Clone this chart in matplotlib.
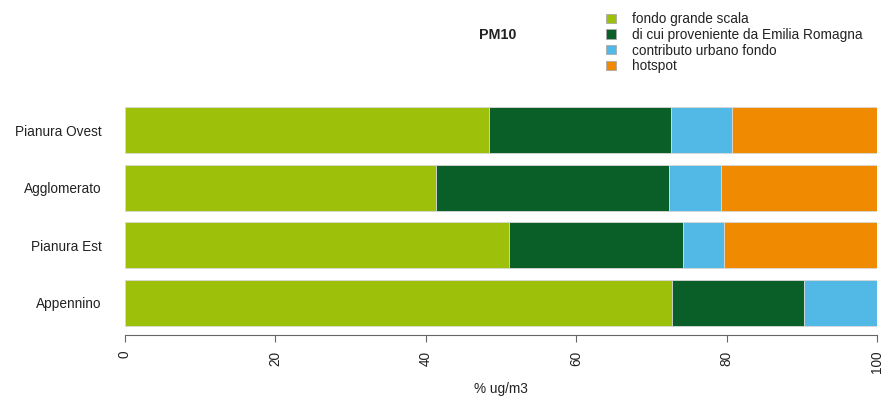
import matplotlib
matplotlib.use("Agg")
import matplotlib.pyplot as plt
from matplotlib.patches import Patch

plt.rcParams['font.family'] = ['Liberation Sans', 'DejaVu Sans']

regions = ["Appennino", "Pianura Est", "Agglomerato", "Pianura Ovest"]
fondo_grande_scala = [72.7, 51.1, 41.4, 48.4]
emilia_romagna = [17.6, 23.1, 31.0, 24.2]
urbano_fondo = [9.7, 5.4, 6.9, 8.1]
hotspot = [0.0, 20.4, 20.7, 19.3]

series = [fondo_grande_scala, emilia_romagna, urbano_fondo, hotspot]
labels = ["fondo grande scala", "di cui proveniente da Emilia Romagna",
          "contributo urbano fondo", "hotspot"]
colors = ["#9DC00A", "#0A5F29", "#52B9E6", "#F08A00"]
xticks = [0, 20, 40, 60, 80, 100]

FS = 9.8
fig = plt.figure(figsize=(8.87, 4.03), dpi=100)
ax = fig.add_axes([125/887, 1 - 335/403, 752/887, 235/403])

y = list(range(len(regions)))
left = [0.0] * len(regions)
for vals, col in zip(series, colors):
    ax.barh(y, vals, left=left, height=0.8, color=col, edgecolor="#d8d8d8", linewidth=0.6)
    left = [l + v for l, v in zip(left, vals)]

ax.set_xlim(0, 100)
ax.set_ylim(-0.557, 3.522)
ax.set_yticks(y)
ax.set_yticklabels(regions, fontsize=FS, color="#222222")
ax.tick_params(axis='y', length=0, pad=17)

for s in ["top", "right", "left"]:
    ax.spines[s].set_visible(False)
ax.spines["bottom"].set_bounds(0, 100)
ax.spines["bottom"].set_color("#666666")
ax.spines["bottom"].set_linewidth(0.8)
ax.set_xticks(xticks)
ax.set_xticklabels([str(t) for t in xticks], rotation=90, fontsize=FS, color="#222222")
ax.tick_params(axis='x', length=5, width=0.8, color="#666666", pad=6.5)
ax.set_xlabel("% ug/m3", fontsize=FS, color="#222222", labelpad=6)

fig.text(498/887, 1 - 35/403, "PM10", fontsize=FS + 0.5, fontweight="bold",
         ha="center", va="center", color="#222222")

handles = [Patch(facecolor=c, edgecolor="#aaaaaa", linewidth=0.6) for c in colors]
fig.legend(handles, labels, loc="upper left", bbox_to_anchor=(606/887, 1 - 12/403),
           frameon=False, fontsize=FS, handlelength=0.75, handleheight=0.65,
           handletextpad=1.15, labelspacing=0.13, borderaxespad=0, borderpad=0,
           labelcolor="#222222")

fig.savefig("out.png", dpi=100)
